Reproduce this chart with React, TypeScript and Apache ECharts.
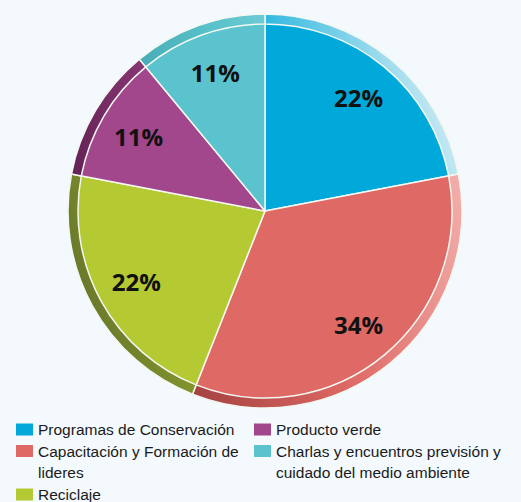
import React, { useEffect, useRef } from 'react';
import * as echarts from 'echarts';

// ---- data ----
const categories = [
  'Programas de Conservación',
  'Capacitación y Formación de lideres',
  'Reciclaje',
  'Producto verde',
  'Charlas y encuentros previsión y cuidado del medio ambiente',
];
const percentages = [22, 34, 22, 11, 11];
const legendColumn1 = [0, 1, 2];
const legendColumn2 = [3, 4];

// ---- styles ----
const COLORS = ['#00A9DA', '#DF6964', '#B5C933', '#A2478B', '#5AC3CD'];
const RIM_LIGHT = ['#C3E7F2', '#F2AFAC', '#DCE792', '#CC82B8', '#A2DEE4'];
const RIM_DARK = ['#0B6E91', '#8A3131', '#6A7A2B', '#5A1C4C', '#2F8C95'];
const BG = '#F3F9FC';

const CX = 265;
const CY = 211;
const R = 197;
const RIM = 10;
const LH = 21.5;
const TWO_LINE_H = LH * 2;

export default function App() {
  const ref = useRef<HTMLDivElement>(null);

  useEffect(() => {
    document.body.style.margin = '0';
    document.body.style.background = BG;
    if (!ref.current) return;
    const chart = echarts.init(ref.current, null, { renderer: 'svg' });

    const rimGrad = (i: number) => ({
      type: 'linear',
      global: true,
      x: CX + R * 0.94,
      y: CY - R * 0.34,
      x2: CX - R * 0.94,
      y2: CY + R * 0.34,
      colorStops: [
        { offset: 0, color: RIM_LIGHT[i] },
        { offset: 0.45, color: COLORS[i] },
        { offset: 1, color: RIM_DARK[i] },
      ],
    });

    const sqTop = LH / 2 - 6;
    const twoLineIcon =
      `path://M0,0L17,0L17,0.01Z M0,${sqTop}H17V${sqTop + 12}H0Z M0,${TWO_LINE_H}L17,${TWO_LINE_H}L17,${TWO_LINE_H - 0.01}Z`;

    const legendItem = (idx: number, left: number, lineCenter: number, width: number, twoLine: boolean) => ({
      data: [{ name: categories[idx], icon: twoLine ? twoLineIcon : 'rect' }],
      left,
      top: twoLine ? lineCenter - LH / 2 : lineCenter - LH / 2,
      orient: 'vertical',
      padding: 0,
      itemWidth: 17,
      itemHeight: twoLine ? TWO_LINE_H : 12,
      itemGap: 0,
      selectedMode: false,
      itemStyle: { borderWidth: 0 },
      textStyle: {
        fontFamily: 'Liberation Sans, Arial, sans-serif',
        fontSize: 15.5,
        color: '#1b1b1b',
        lineHeight: LH,
        width,
        overflow: 'break',
      },
    });

    const legends = [
      legendItem(legendColumn1[0], 16, 429.5, 238, false),
      legendItem(legendColumn1[1], 16, 451, 238, true),
      legendItem(legendColumn1[2], 16, 494.5, 238, false),
      legendItem(legendColumn2[0], 254, 429.5, 242, false),
      legendItem(legendColumn2[1], 254, 451, 242, true),
    ];

    chart.setOption({
      animation: false,
      backgroundColor: BG,
      color: COLORS,
      legend: legends,
      series: [
        {
          name: 'main',
          type: 'pie',
          center: [CX, CY],
          radius: [0, R],
          startAngle: 90,
          clockwise: true,
          silent: true,
          label: { show: false },
          labelLine: { show: false },
          itemStyle: { borderColor: '#F4F8F2', borderWidth: 1.5 },
          data: categories.map((name, i) => ({ name, value: percentages[i] })),
        },
        {
          name: 'rim',
          type: 'pie',
          center: [CX, CY],
          radius: [R - RIM, R],
          startAngle: 90,
          clockwise: true,
          silent: true,
          label: { show: false },
          labelLine: { show: false },
          itemStyle: { borderColor: '#F4F8F2', borderWidth: 1.5 },
          data: categories.map((name, i) => ({
            name,
            value: percentages[i],
            itemStyle: { color: rimGrad(i) },
          })),
        },
        {
          name: 'labels',
          type: 'pie',
          center: [CX, CY],
          radius: [R * 0.46, R],
          startAngle: 90,
          clockwise: true,
          silent: true,
          avoidLabelOverlap: false,
          itemStyle: { color: 'rgba(0,0,0,0)' },
          labelLine: { show: false },
          label: {
            show: true,
            position: 'inside',
            formatter: (p: any) => `${p.value}%`,
            fontFamily: 'Open Sans, Liberation Sans, sans-serif',
            fontWeight: 'bold',
            fontSize: 24,
            color: '#111111',
          },
          data: categories.map((name, i) => ({ name, value: percentages[i] })),
        },
      ],
    });

    return () => chart.dispose();
  }, []);

  return <div ref={ref} style={{ width: 521, height: 502, background: BG }} />;
}
